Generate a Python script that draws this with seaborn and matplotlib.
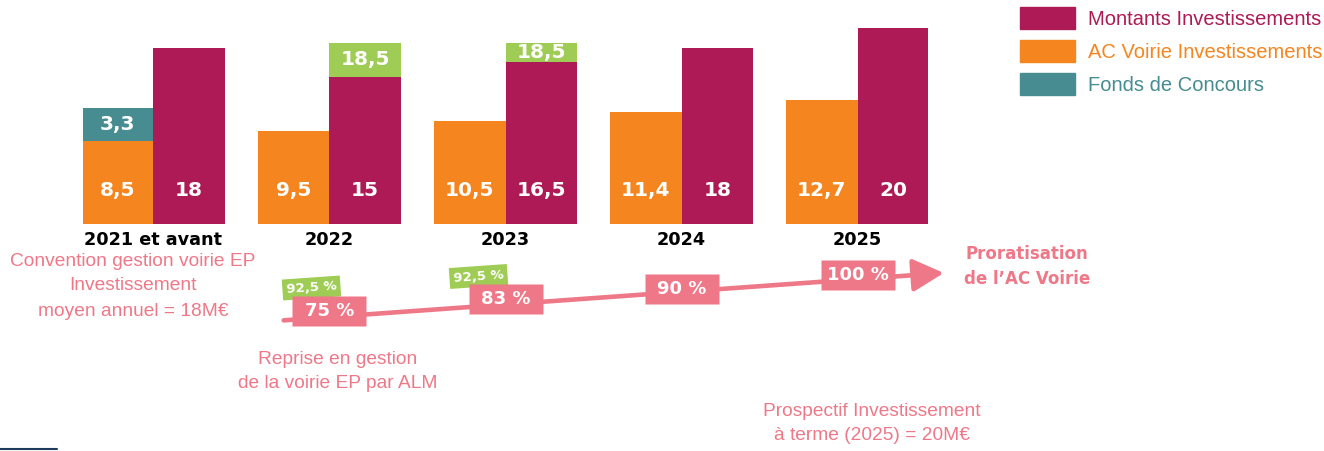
import numpy as np
import pandas as pd
import matplotlib
matplotlib.use('Agg')
import matplotlib.pyplot as plt
from matplotlib.patches import Patch
from matplotlib.lines import Line2D
from matplotlib import font_manager
import seaborn as sns

# Données
annees = ['2021 et avant', '2022', '2023', '2024', '2025']
ac_voirie = [8.5, 9.5, 10.5, 11.4, 12.7]
montants = [18, 15, 16.5, 18, 20]
fonds_concours = [3.3, 0, 0, 0, 0]
total_ajuste = [0, 18.5, 18.5, 0, 0]          # total affiché en vert au-dessus des montants
proratisation = [75, 83, 90, 100]
proratisation_pos = [1, 2, 3, 4]               # index des années 2022..2025
taux_vert = ['92,5 %', '92,5 %']
taux_vert_pos = [1, 2]

violet = '#AD1A55'
orange = '#F4851F'
bleu = '#468C90'
vert = '#9FCC55'
rose = '#EE7887'

sns.set_theme(style='white')
noms = {f.name for f in font_manager.fontManager.ttflist}
police = 'Liberation Sans Narrow' if 'Liberation Sans Narrow' in noms else 'Liberation Sans'
taille = 16.5 if police == 'Liberation Sans Narrow' else 13.8
taille_leg = 17 if police == 'Liberation Sans Narrow' else 14.5
plt.rcParams['font.family'] = [police, 'DejaVu Sans']

W, H = 1324, 451
fig = plt.figure(figsize=(W / 100, H / 100), dpi=100)


def px(x, y):
    return x / W, 1 - y / H


# Barres
ax = fig.add_axes([83 / W, 227 / H, 845 / W, 196 / H])
df = pd.DataFrame({
    'annee': annees * 2,
    'serie': ['AC Voirie Investissements'] * 5 + ['Montants Investissements'] * 5,
    'valeur': ac_voirie + montants,
})
sns.barplot(data=df, x='annee', y='valeur', hue='serie',
            hue_order=['AC Voirie Investissements', 'Montants Investissements'],
            palette=[orange, violet], saturation=1, width=0.81, gap=0,
            linewidth=0, legend=False, ax=ax)

barres_ac = ax.containers[0]
barres_mt = ax.containers[1]


def fmt(v):
    return f'{v:g}'.replace('.', ',')


lab = dict(color='white', fontweight='bold', fontsize=14.5, ha='center', va='center',
           family='DejaVu Sans')
for i in range(len(annees)):
    b1, b2 = barres_ac[i], barres_mt[i]
    c1 = b1.get_x() + b1.get_width() / 2
    c2 = b2.get_x() + b2.get_width() / 2
    if fonds_concours[i]:
        ax.bar(c1, fonds_concours[i], bottom=ac_voirie[i], width=b1.get_width(),
               color=bleu, linewidth=0)
        ax.text(c1, ac_voirie[i] + fonds_concours[i] / 2, fmt(fonds_concours[i]), **lab)
    if total_ajuste[i]:
        ax.bar(c2, total_ajuste[i] - montants[i], bottom=montants[i], width=b2.get_width(),
               color=vert, linewidth=0)
        ax.text(c2, (total_ajuste[i] + montants[i]) / 2, fmt(total_ajuste[i]), **lab)
    ax.text(c1, 3.4, fmt(ac_voirie[i]), **lab)
    ax.text(c2, 3.4, fmt(montants[i]), **lab)

ax.set_xlim(-0.4, 4.4)
ax.set_ylim(0, 20)
ax.set_xlabel('')
ax.set_ylabel('')
ax.set_yticks([])
sns.despine(ax=ax, left=True, bottom=True)
ax.tick_params(axis='x', length=0, pad=5)
for t in ax.get_xticklabels():
    t.set_fontweight('bold')
    t.set_fontsize(12.7)
    t.set_color('black')
    t.set_family('DejaVu Sans')

# Proratisation
ax2 = fig.add_axes([83 / W, 111 / H, 845 / W, 90 / H])
ax2.set_xlim(-0.4, 4.4)
ax2.set_ylim(54.86, 117.36)
ax2.axis('off')

ax2.annotate('', xy=(4.49, 101.4), xytext=(0.74, 68.5),
             arrowprops=dict(arrowstyle='-|>,head_length=0.95,head_width=0.5',
                             lw=3.3, color=rose, shrinkA=0, shrinkB=0, mutation_scale=20),
             annotation_clip=False, zorder=2)

for pos, txt, dx in zip(taux_vert_pos, taux_vert, [-18, -27]):
    ax2.annotate(txt, xy=(pos, proratisation[pos - 1]), xytext=(dx, 23),
                 textcoords='offset pixels', ha='center', va='center', rotation=4,
                 color='white', fontweight='bold', fontsize=9.5, family='DejaVu Sans',
                 bbox=dict(boxstyle='square,pad=0.3', fc=vert, ec='none'),
                 annotation_clip=False, zorder=2.5)

boite = [(-37, -15), (37, -15), (37, 15), (-37, 15), (-37, -15)]
ax2.plot(proratisation_pos, proratisation, ls='none', marker=boite, ms=53.3,
         color=rose, mec='none', zorder=3, clip_on=False)
for pos, p in zip(proratisation_pos, proratisation):
    ax2.text(pos, p, f'{p} %', color='white', fontweight='bold', fontsize=13,
             family='DejaVu Sans', ha='center', va='center', zorder=4)

# Textes
for ligne, y in zip(['Convention gestion voirie EP', 'Investissement', 'moyen annuel = 18M€'],
                    [262, 286, 311]):
    fig.text(*px(133, y), ligne, color=rose, fontsize=taille, ha='center', va='center')
for ligne, y in zip(['Reprise en gestion', 'de la voirie EP par ALM'], [360, 383]):
    fig.text(*px(338, y), ligne, color=rose, fontsize=taille, ha='center', va='center')
for ligne, y in zip(['Prospectif Investissement', 'à terme (2025) = 20M€'], [412, 436]):
    fig.text(*px(872, y), ligne, color=rose, fontsize=taille, ha='center', va='center')
for ligne, y in zip(['Proratisation', 'de l’AC Voirie'], [254, 279]):
    fig.text(*px(1027, y), ligne, color=rose, fontsize=12, fontweight='bold',
             family='DejaVu Sans', ha='center', va='center')

# Légende
poignees = [Patch(color=violet), Patch(color=orange), Patch(color=bleu)]
etiquettes = ['Montants Investissements', 'AC Voirie Investissements', 'Fonds de Concours']
em = taille_leg / 0.72
hh = (22 / em - 0.245) / 0.65
fig.legend(poignees, etiquettes, loc='upper left', bbox_to_anchor=px(1020, 7),
           frameon=False, fontsize=taille_leg, borderpad=0, borderaxespad=0,
           handlelength=55 / em, handleheight=hh, labelspacing=11 / em,
           handletextpad=13 / em, labelcolor=[violet, orange, bleu])

fig.add_artist(Line2D([0, 57 / W], [1 - 449 / H] * 2, color='#1F3A5F', lw=1.5))

fig.savefig('out.png', dpi=100)
